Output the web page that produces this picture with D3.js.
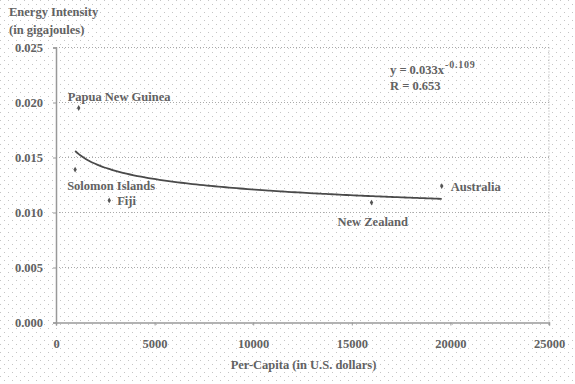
<!DOCTYPE html>
<html><head><meta charset="utf-8">
<script src="https://cdn.jsdelivr.net/npm/d3@7"></script>
<style>body{margin:0;background:#fff}svg{display:block}svg text{font-family:"Liberation Serif","DejaVu Serif","Noto Serif",serif !important;font-weight:bold;fill:#626262}</style>
</head><body><svg id="c" width="575" height="384"></svg>
<script>
const countries = ["Papua New Guinea","Solomon Islands","Fiji","New Zealand","Australia"];
const perCapita = [1150, 970, 2700, 16000, 19560];
const intensity = [0.0195, 0.0139, 0.0111, 0.0109, 0.0124];
const labelDx = [-11, -8, 8, -34, 9];
const labelDy = [-11, 16, 0, 19, 1];
const xTicks = [0, 5000, 10000, 15000, 20000, 25000];
const yTicks = [0, 0.005, 0.010, 0.015, 0.020, 0.025];
const trendA = 0.033, trendB = -0.109;
const equationText = "y = 0.033x", equationExp = "-0.109", rText = "R = 0.653";

const svg = d3.select("#c");
const defs = svg.append("defs");
const pat = defs.append("pattern").attr("id","dots").attr("width",8).attr("height",8).attr("patternUnits","userSpaceOnUse");
pat.append("rect").attr("x",0).attr("y",0).attr("width",1).attr("height",1).attr("fill","#c4c4c4");
pat.append("rect").attr("x",4).attr("y",4).attr("width",1).attr("height",1).attr("fill","#c4c4c4");
svg.append("rect").attr("width",575).attr("height",384).attr("fill","url(#dots)");

const L = 56, R = 549, T = 47.5, B = 322.5;
const x = d3.scaleLinear().domain([0,25000]).range([L,R]);
const y = d3.scaleLinear().domain([0,0.025]).range([B,T]);

svg.append("g").selectAll("line").data(yTicks.filter(d=>d>0)).join("line")
  .attr("x1",L).attr("x2",R).attr("y1",d=>y(d)).attr("y2",d=>y(d))
  .attr("stroke","#aaa").attr("stroke-width",1).attr("stroke-dasharray","1,2");
svg.append("line").attr("x1",R).attr("x2",R).attr("y1",T).attr("y2",B)
  .attr("stroke","#aaa").attr("stroke-dasharray","1,2");

const xAxis = svg.append("g").attr("transform",`translate(0,${B})`)
  .call(d3.axisBottom(x).tickValues(xTicks).tickFormat(d3.format("d")).tickSize(3).tickPadding(14));
const yAxis = svg.append("g").attr("transform",`translate(${L},0)`)
  .call(d3.axisLeft(y).tickValues(yTicks).tickFormat(d3.format(".3f")).tickSize(3).tickPadding(10));
[xAxis,yAxis].forEach(g=>{
  g.attr("font-family",null).attr("font-size",null);
  g.select(".domain").attr("stroke","#999").attr("stroke-width",1.5);
  g.selectAll(".tick line").attr("stroke","#999");
  g.selectAll("text").style("font-size","12.5px").attr("fill","#626262");
});

const xmin = d3.min(perCapita), xmax = d3.max(perCapita);
const trendPts = d3.range(0,101).map(i=>{const v = xmin + (xmax-xmin)*i/100; return [v, trendA*Math.pow(v,trendB)];});
svg.append("path").datum(trendPts)
  .attr("d", d3.line().x(d=>x(d[0])).y(d=>y(d[1])).curve(d3.curveBasis))
  .attr("fill","none").attr("stroke","#4a4a4a").attr("stroke-width",1.8);

const pts = countries.map((c,i)=>({c, x: perCapita[i], y: intensity[i], dx: labelDx[i], dy: labelDy[i]}));
svg.append("g").selectAll("path").data(pts).join("path")
  .attr("transform",d=>`translate(${x(d.x)},${y(d.y)})`)
  .attr("d", d3.symbol().type(d3.symbolDiamond).size(10))
  .attr("fill","#555");
svg.append("g").selectAll("text").data(pts).join("text")
  .attr("x",d=>x(d.x)+d.dx).attr("y",d=>y(d.y)+d.dy).attr("dy","0.35em")
  .style("font-size","12.5px").text(d=>d.c);

const eq = svg.append("text").attr("x",390).attr("y",74).style("font-size","12.5px");
eq.append("tspan").text(equationText);
eq.append("tspan").attr("dy",-6).attr("dx",1).style("font-size","10px").style("letter-spacing","0.8px").text(equationExp);
svg.append("text").attr("x",390).attr("y",90).style("font-size","12.5px").text(rText);

svg.append("text").attr("x",9).attr("y",16).style("font-size","12.5px").text("Energy Intensity");
svg.append("text").attr("x",9).attr("y",34).style("font-size","12.5px").text("(in gigajoules)");
svg.append("text").attr("x",(L+R)/2 + 1).attr("y",369).attr("text-anchor","middle").style("font-size","12.5px").text("Per-Capita (in U.S. dollars)");
</script></body></html>
